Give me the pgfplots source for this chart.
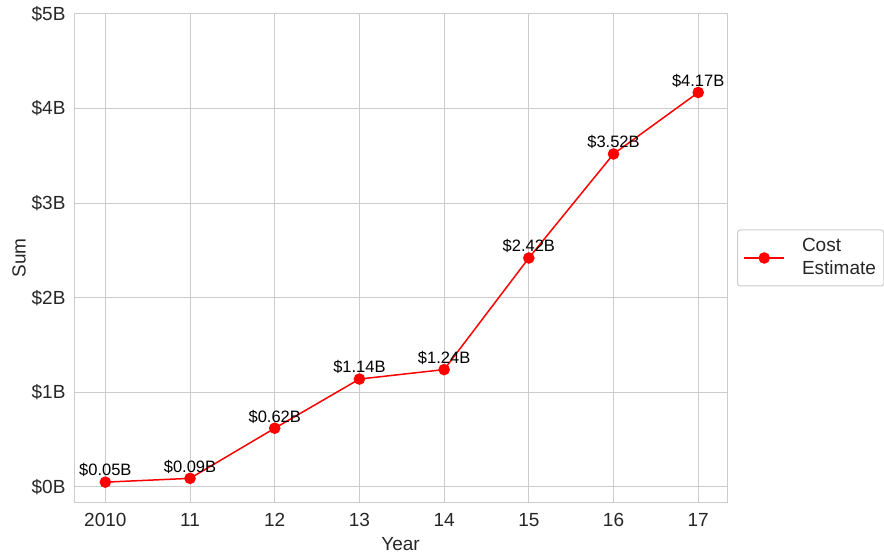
\documentclass[border=0pt]{standalone}
\usepackage{pgfplots}
\pgfplotsset{compat=1.18}
\usepackage{fontspec}
\setmainfont{Liberation Sans}
\usetikzlibrary{calc}
\definecolor{gridgray}{gray}{0.8}
\definecolor{txt}{gray}{0.15}
\begin{document}
\begin{tikzpicture}
\useasboundingbox (0pt,0pt) rectangle (884pt,555pt);
\begin{axis}[
    at={(74pt,53pt)}, anchor=south west,
    scale only axis, width=653pt, height=488pt,
    xmin=-0.37, xmax=7.34, ymin=-0.16, ymax=5,
    xtick={0,...,7},
    xticklabels={2010,11,12,13,14,15,16,17},
    ytick={0,...,5},
    yticklabels={\$0B,\$1B,\$2B,\$3B,\$4B,\$5B},
    grid=major,
    grid style={gridgray, line width=1pt},
    axis line style={gridgray, line width=1pt},
    major tick length=0pt,
    /pgf/number format/assume math mode=true,
    tick label style={font=\fontsize{19}{22}\selectfont, text=txt},
    xticklabel style={yshift=-8pt},
    yticklabel style={xshift=-5pt},
    label style={font=\fontsize{19}{22}\selectfont, text=txt},
    xlabel={Year},
    ylabel={Sum},
    xlabel style={at={(axis description cs:0.5,0)}, anchor=center, yshift=-42pt},
    ylabel style={at={($(axis description cs:0,0.5)+(-55pt,0pt)$)}, anchor=center},
    legend style={at={(1.0153,0.5)}, anchor=west, draw=gridgray, line width=1pt,
        rounded corners=3pt, inner xsep=6pt, inner ysep=3pt,
        font=\fontsize{19}{23}\selectfont, text=txt,
        nodes={text depth=, text height=}},
    legend cell align=left,
    legend image code/.code={%
        \draw[mark repeat=2,mark phase=2,#1] plot coordinates {(0pt,0pt)(20pt,0pt)(40pt,0pt)};
        \path (55pt,0pt);},
    nodes near coords={\$\pgfmathprintnumber[fixed,precision=2,fixed zerofill]{\pgfplotspointmeta}B},
    nodes near coords style={font=\fontsize{16.5}{19}\selectfont, text=black, anchor=south, yshift=1pt},
    point meta=y,
]
\addplot[red, line width=1.5pt, mark=*, mark size=5pt, mark options={solid, fill=red, draw=red}]
    coordinates {
    (0,0.05) (1,0.09) (2,0.62) (3,1.14) (4,1.24) (5,2.42) (6,3.52) (7,4.17)
};
\addlegendentry{\begin{tabular}{@{}l@{}}Cost\\Estimate\end{tabular}}
\end{axis}
\end{tikzpicture}
\end{document}
